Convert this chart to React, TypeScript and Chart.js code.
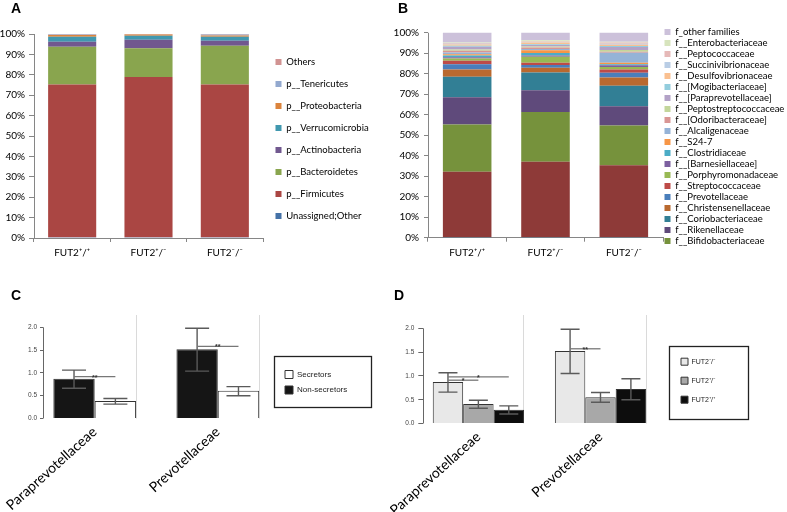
import React, { useEffect, useRef } from 'react';
import { Chart, registerables } from 'chart.js';

Chart.register(...registerables);

const FONT = 'Lato, "DejaVu Sans", sans-serif';
const SMALL_FONT = '"Liberation Sans", Arial, sans-serif';

// ---------------- Panel A : phyla ----------------
const genotypes = ['FUT2⁺/⁺', 'FUT2⁺/⁻', 'FUT2⁻/⁻'];
const phylumNames = [
  'Unassigned;Other',
  'p__Firmicutes',
  'p__Bacteroidetes',
  'p__Actinobacteria',
  'p__Verrucomicrobia',
  'p__Proteobacteria',
  'p__Tenericutes',
  'Others',
];
const phylumColors = ['#4572A7', '#AA4643', '#89A54E', '#71588F', '#4198AF', '#DB843D', '#93A9CF', '#D19392'];
const unassignedOther = [0.4, 0.4, 0.4];
const firmicutes = [74.9, 78.5, 74.9];
const bacteroidetes = [18.5, 14.1, 19.0];
const actinobacteria = [2.4, 4.2, 2.4];
const verrucomicrobia = [2.5, 2.0, 2.0];
const proteobacteria = [0.8, 0.5, 0.6];
const tenericutes = [0.2, 0.1, 0.4];
const otherPhyla = [0.3, 0.2, 0.3];
const phylumValues = [unassignedOther, firmicutes, bacteroidetes, actinobacteria, verrucomicrobia, proteobacteria, tenericutes, otherPhyla];

const percentTicks = [0, 10, 20, 30, 40, 50, 60, 70, 80, 90, 100];

// ---------------- Panel B : families ----------------
const familyNames = [
  'Unassigned;Other',
  'f__[unlisted]',
  'f__Bifidobacteriaceae',
  'f__Rikenellaceae',
  'f__Coriobacteriaceae',
  'f__Christensenellaceae',
  'f__Prevotellaceae',
  'f__Streptococcaceae',
  'f__Porphyromonadaceae',
  'f__[Barnesiellaceae]',
  'f__Clostridiaceae',
  'f__S24-7',
  'f__Alcaligenaceae',
  'f__[Odoribacteraceae]',
  'f__Peptostreptococcaceae',
  'f__[Paraprevotellaceae]',
  'f__[Mogibacteriaceae]',
  'f__Desulfovibrionaceae',
  'f__Succinivibrionaceae',
  'f__Peptococcaceae',
  'f__Enterobacteriaceae',
  'f_other families',
];
const familyColors = [
  '#376092', '#8E3A38', '#76923C', '#5F4A7B', '#327F95', '#B9692F',
  '#4A7EBB', '#BE4B48', '#98B954', '#7D60A0', '#4BACC6', '#F79646',
  '#95B3D7', '#D99694', '#C3D69B', '#B3A2C7', '#93CDDD', '#FAC090',
  '#B9CDE5', '#E6B9B8', '#D7E4BD', '#CCC1DA',
];
const familiesWT = [0.3, 31.9, 23.1, 13.3, 9.9, 3.6, 2.5, 1.7, 1.2, 0.6, 0.8, 0.6, 0.9, 0.8, 0.7, 1.3, 0.5, 0.6, 0.3, 0.4, 0.3, 4.7];
const familiesHet = [0.3, 36.8, 24.3, 10.5, 8.7, 2.3, 1.4, 1.1, 2.9, 0.6, 1.2, 1.4, 0.6, 0.7, 0.5, 0.7, 0.4, 0.9, 0.2, 0.3, 0.6, 3.6];
const familiesKO = [0.3, 35.0, 19.5, 9.4, 9.9, 4.1, 2.3, 1.6, 1.2, 0.9, 0.5, 0.7, 4.8, 0.6, 0.8, 1.5, 0.5, 0.6, 0.4, 0.6, 0.4, 4.4];

// ---------------- Panel C : secretor status ----------------
const taxa = ['Paraprevotellaceae', 'Prevotellaceae'];
const secretorGroups = ['Non-secretors', 'Secretors'];
const nonSecretorMean = [0.87, 1.52];
const nonSecretorLow = [0.665, 1.04];
const nonSecretorHigh = [1.06, 1.98];
const secretorMean = [0.385, 0.61];
const secretorLow = [0.315, 0.5];
const secretorHigh = [0.44, 0.7];
const sigC = [
  { group: 0, from: 0, to: 1, value: 0.92, label: '**' },
  { group: 1, from: 0, to: 1, value: 1.58, label: '**' },
];

// ---------------- Panel D : genotypes ----------------
const genotypeGroupsD = ['FUT2⁻/⁻', 'FUT2⁺/⁻', 'FUT2⁺/⁺'];
const koMean = [0.87, 1.525];
const koLow = [0.66, 1.05];
const koHigh = [1.065, 1.98];
const hetMean = [0.41, 0.55];
const hetLow = [0.32, 0.445];
const hetHigh = [0.49, 0.65];
const wtMean = [0.29, 0.725];
const wtLow = [0.2, 0.5];
const wtHigh = [0.37, 0.94];
const sigD = [
  { group: 0, from: 0, to: 2, value: 0.98, label: '*' },
  { group: 0, from: 0, to: 1, value: 0.91, label: '*' },
  { group: 1, from: 0, to: 1, value: 1.57, label: '**' },
];
const abundanceTicks = [0, 0.5, 1, 1.5, 2];

// ---------------- helpers / plugins ----------------
const toPoints = (vals: number[]) => vals.map((v, i) => ({ x: i, y: v }));

function fixSize(s: any, key: 'width' | 'height', size: number) {
  s[key] = size;
  s.paddingLeft = 0;
  s.paddingRight = 0;
  s.paddingTop = 0;
  s.paddingBottom = 0;
}

function axisLine(from: number, to: number, color: string, width: number) {
  return {
    id: 'axisLine',
    afterDraw(chart: any) {
      const { ctx, chartArea, scales } = chart;
      const x = Math.round(chartArea.left) + 0.5;
      ctx.save();
      ctx.strokeStyle = color;
      ctx.lineWidth = width;
      ctx.beginPath();
      ctx.moveTo(x, scales.y.getPixelForValue(from));
      ctx.lineTo(x, scales.y.getPixelForValue(to));
      ctx.stroke();
      ctx.restore();
    },
  };
}

function errorBars(low: number[][], high: number[][], sig: any[], cap: number) {
  return {
    id: 'errorBars',
    afterDatasetsDraw(chart: any) {
      const { ctx } = chart;
      const ys = chart.scales.y;
      ctx.save();
      ctx.strokeStyle = '#5a5a5a';
      ctx.lineWidth = 1.4;
      low.forEach((lows, i) => {
        const meta = chart.getDatasetMeta(i);
        meta.data.forEach((bar: any, j: number) => {
          const x = bar.x;
          const yl = ys.getPixelForValue(lows[j]);
          const yh = ys.getPixelForValue(high[i][j]);
          const c = cap / 2;
          ctx.beginPath();
          ctx.moveTo(x, yl);
          ctx.lineTo(x, yh);
          ctx.moveTo(x - c, yl);
          ctx.lineTo(x + c, yl);
          ctx.moveTo(x - c, yh);
          ctx.lineTo(x + c, yh);
          ctx.stroke();
        });
      });
      sig.forEach((s) => {
        const xa = chart.getDatasetMeta(s.from).data[s.group].x;
        const xb = chart.getDatasetMeta(s.to).data[s.group].x;
        const y = ys.getPixelForValue(s.value);
        ctx.strokeStyle = '#777';
        ctx.lineWidth = 1.3;
        ctx.beginPath();
        ctx.moveTo(xa, y);
        ctx.lineTo(xb, y);
        ctx.stroke();
        ctx.fillStyle = '#333';
        ctx.font = 'bold 7px ' + SMALL_FONT;
        ctx.textAlign = 'center';
        ctx.textBaseline = 'alphabetic';
        ctx.fillText(s.label, (xa + xb) / 2, y + 3);
      });
      ctx.restore();
    },
  };
}

function legendFrame(l: number, t: number, r: number, b: number) {
  return {
    id: 'legendFrame',
    afterDraw(chart: any) {
      const boxes = chart.legend && chart.legend.legendHitBoxes;
      if (!boxes || !boxes.length) return;
      const left = Math.min(...boxes.map((h: any) => h.left));
      const top = Math.min(...boxes.map((h: any) => h.top));
      const right = Math.max(...boxes.map((h: any) => h.left + h.width));
      const bottom = Math.max(...boxes.map((h: any) => h.top + h.height));
      const { ctx } = chart;
      ctx.save();
      ctx.strokeStyle = '#222';
      ctx.lineWidth = 1.3;
      ctx.strokeRect(Math.round(left - l) + 0.5, Math.round(top - t) + 0.5, Math.round(right - left + l + r), Math.round(bottom - top + t + b));
      ctx.restore();
    },
  };
}

// ---------------- chart configs ----------------
function stackedOptions(yMax: number, yWidth: number, xHeight: number, yTick: number, yPad: number, legendLabels: any) {
  return {
    responsive: false,
    animation: false,
    layout: { padding: { top: 0, bottom: 0, left: 0, right: 0 } },
    scales: {
      x: {
        stacked: true,
        afterFit: (s: any) => fixSize(s, 'height', xHeight),
        grid: { drawOnChartArea: false, tickLength: 4, color: '#868686', offset: true },
        border: { color: '#868686' },
        ticks: { font: { family: FONT, size: 10 }, color: '#000', padding: 5, maxRotation: 0, minRotation: 0 },
      },
      y: {
        stacked: true,
        min: 0,
        max: yMax,
        afterBuildTicks: (s: any) => { s.ticks = percentTicks.map((v) => ({ value: v })); },
        afterFit: (s: any) => fixSize(s, 'width', yWidth),
        grid: { drawOnChartArea: false, tickLength: yTick, color: '#868686' },
        border: { display: false },
        ticks: { font: { family: FONT, size: 10 }, color: '#000', padding: yPad, callback: (v: any) => v + '%' },
      },
    },
    plugins: {
      tooltip: { enabled: false },
      legend: {
        position: 'right',
        reverse: true,
        maxWidth: 400,
        labels: legendLabels,
      },
    },
  };
}

function makeA(): any {
  return {
    type: 'bar',
    data: {
      labels: genotypes,
      datasets: phylumNames.map((name, k) => ({
        label: name,
        data: phylumValues[k],
        backgroundColor: phylumColors[k],
        borderWidth: 0,
        barPercentage: 0.63,
        categoryPercentage: 1,
      })),
    },
    options: stackedOptions(116.67, 34, 40, 5, 4, {
      boxWidth: 6, boxHeight: 6, padding: 12.5, color: '#000', font: { family: FONT, size: 9.5 },
    }),
    plugins: [axisLine(0, 100, '#868686', 1)],
  };
}

function makeB(): any {
  return {
    type: 'bar',
    data: {
      labels: genotypes,
      datasets: familyNames.map((name, k) => ({
        label: name,
        data: [familiesWT[k], familiesHet[k], familiesKO[k]],
        backgroundColor: familyColors[k],
        borderWidth: 0,
        barPercentage: 0.62,
        categoryPercentage: 1,
      })),
    },
    options: stackedOptions(116, 38, 35.3, 4, 5, {
      boxWidth: 6, boxHeight: 6, padding: 1.5, color: '#000', font: { family: FONT, size: 9.5 },
      filter: (item: any) => item.datasetIndex >= 2,
    }),
    plugins: [axisLine(0, 100, '#868686', 1)],
  };
}

function facetScales(cp: number, min: number, max: number, yMax: number, xHeight: number, yWidth: number, yTick: number, yPad: number, labelSize: number) {
  return {
    x: {
      type: 'linear',
      min,
      max,
      offset: false,
      afterBuildTicks: (s: any) => { s.ticks = taxa.map((_, i) => ({ value: i })); },
      afterFit: (s: any) => fixSize(s, 'height', xHeight),
      grid: { display: false, offset: false },
      border: { display: false },
      ticks: {
        autoSkip: false,
        minRotation: 42,
        maxRotation: 42,
        padding: -3,
        color: '#000',
        font: { family: FONT, size: labelSize },
        callback: (v: any) => (taxa[v] !== undefined ? taxa[v] : ''),
      },
    },
    x2: {
      type: 'linear',
      axis: 'x',
      position: 'top',
      min,
      max,
      offset: false,
      afterBuildTicks: (s: any) => { s.ticks = taxa.map((_, i) => ({ value: i + cp / 2 })); },
      afterFit: (s: any) => fixSize(s, 'height', 0),
      grid: { drawTicks: false, color: '#dadada', lineWidth: 1, offset: false },
      border: { display: false },
      ticks: { display: false },
    },
    y: {
      min: 0,
      max: yMax,
      afterBuildTicks: (s: any) => { s.ticks = abundanceTicks.map((v) => ({ value: v })); },
      afterFit: (s: any) => fixSize(s, 'width', yWidth),
      grid: { drawOnChartArea: false, tickLength: yTick, color: '#666' },
      border: { display: false },
      ticks: { font: { family: SMALL_FONT, size: 6.5 }, color: '#444', padding: yPad, callback: (v: any) => Number(v).toFixed(1) },
    },
  };
}

function makeC(): any {
  const cp = 0.672;
  return {
    type: 'bar',
    data: {
      datasets: [
        { label: secretorGroups[0], data: toPoints(nonSecretorMean), backgroundColor: '#151515', borderColor: '#333', borderWidth: 1 },
        { label: secretorGroups[1], data: toPoints(secretorMean), backgroundColor: '#ffffff', borderColor: '#333', borderWidth: 1 },
      ],
    },
    options: {
      responsive: false,
      animation: false,
      datasets: { bar: { categoryPercentage: cp, barPercentage: 1 } },
      layout: { padding: { top: 35, bottom: 0, left: 0, right: 0 } },
      scales: facetScales(cp, -0.42, 1.485, 2.27, 93.5, 43, 3, 3, 14),
      plugins: {
        tooltip: { enabled: false },
        legend: {
          position: 'right',
          align: 'start',
          reverse: true,
          maxWidth: 400,
          title: { display: true, text: ' ', padding: 18, font: { size: 10 } },
          labels: { boxWidth: 8, boxHeight: 8, padding: 7.5, color: '#222', font: { family: SMALL_FONT, size: 8 } },
        },
      },
    },
    plugins: [
      axisLine(0, 2, '#666', 1),
      errorBars([nonSecretorLow, secretorLow], [nonSecretorHigh, secretorHigh], sigC, 24),
      legendFrame(11, 14.5, 24, 12.7),
    ],
  };
}

function makeD(): any {
  const cp = 0.747;
  return {
    type: 'bar',
    data: {
      datasets: [
        { label: genotypeGroupsD[0], data: toPoints(koMean), backgroundColor: '#E8E8E8', borderColor: '#333', borderWidth: 1 },
        { label: genotypeGroupsD[1], data: toPoints(hetMean), backgroundColor: '#A8A8A8', borderColor: '#333', borderWidth: 1 },
        { label: genotypeGroupsD[2], data: toPoints(wtMean), backgroundColor: '#0D0D0D', borderColor: '#333', borderWidth: 1 },
      ],
    },
    options: {
      responsive: false,
      animation: false,
      datasets: { bar: { categoryPercentage: cp, barPercentage: 1 } },
      layout: { padding: { top: 35, bottom: 0, left: 0, right: 0 } },
      scales: facetScales(cp, -0.451, 1.561, 2.28, 88.5, 33.3, 5, 4, 14),
      plugins: {
        tooltip: { enabled: false },
        legend: {
          position: 'right',
          align: 'start',
          maxWidth: 400,
          title: { display: true, text: ' ', padding: 9.6, font: { size: 10 } },
          labels: { boxWidth: 7, boxHeight: 7, padding: 12, color: '#222', font: { family: SMALL_FONT, size: 7 } },
        },
      },
    },
    plugins: [
      axisLine(0, 2, '#666', 1),
      errorBars([koLow, hetLow, wtLow], [koHigh, hetHigh, wtHigh], sigD, 19),
      legendFrame(12, 12.5, 33.5, 15.8),
    ],
  };
}

// ---------------- components ----------------
function ChartCanvas({ x, y, w, h, make, plotRight }: { x: number; y: number; w: number; h: number; make: () => any; plotRight: number }) {
  const ref = useRef<HTMLCanvasElement | null>(null);
  useEffect(() => {
    if (!ref.current) return;
    const chart: any = new Chart(ref.current, make());
    // place the plot's right edge (legend sits right of it)
    for (let k = 0; k < 3; k++) {
      const diff = chart.chartArea.right - plotRight;
      if (Math.abs(diff) < 0.05) break;
      chart.options.layout.padding.right = (chart.options.layout.padding.right || 0) + diff;
      chart.update('none');
    }
    return () => chart.destroy();
  }, []);
  return (
    <canvas
      ref={ref}
      width={w}
      height={h}
      style={{ position: 'absolute', left: x, top: y, width: w, height: h }}
    />
  );
}

function PanelLetter({ text, x, y }: { text: string; x: number; y: number }) {
  return (
    <div
      style={{
        position: 'absolute',
        left: x,
        top: y,
        fontFamily: SMALL_FONT,
        fontWeight: 'bold',
        fontSize: 14,
        lineHeight: '14px',
        color: '#000',
      }}
    >
      {text}
    </div>
  );
}

export default function App() {
  return (
    <div style={{ position: 'fixed', left: 0, top: 0, width: 787, height: 512, background: '#fff', overflow: 'hidden' }}>
      <ChartCanvas x={0} y={0} w={390} h={278} make={makeA} plotRight={263} />
      <ChartCanvas x={390} y={0} w={397} h={273} make={makeB} plotRight={273} />
      <ChartCanvas x={0} y={280} w={390} h={232} make={makeC} plotRight={277.5} />
      <ChartCanvas x={390} y={280} w={397} h={232} make={makeD} plotRight={279} />
      <PanelLetter text="A" x={11} y={1} />
      <PanelLetter text="B" x={398} y={1} />
      <PanelLetter text="C" x={11} y={288} />
      <PanelLetter text="D" x={394} y={288} />
    </div>
  );
}
